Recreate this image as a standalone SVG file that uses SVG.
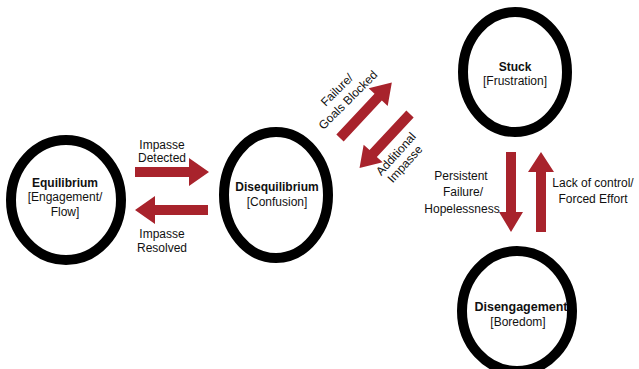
<svg xmlns="http://www.w3.org/2000/svg" width="639" height="369" viewBox="0 0 639 369">
  <style>
    .node { fill: #ffffff; stroke: #000000; stroke-width: 10; }
    .arr { fill: #a8232c; stroke: none; }
    text { font-family: "Liberation Sans", Arial, sans-serif; fill: #111111; text-anchor: middle; }
    .t { font-size: 12px; font-weight: bold; }
    .s { font-size: 12px; }
    .l { font-size: 12px; }
  </style>
  <rect x="0" y="0" width="639" height="369" fill="#ffffff"/>

  <g id="connectors">
    <polygon class="arr" points="135,167 189,167 189,158 209,172 189,186 189,177 135,177"/>
    <polygon class="arr" points="208,205 155,205 155,196 135,210 155,224 155,215 208,215"/>
    <polygon class="arr" points="0,-5 56,-5 56,-13 76,0 56,13 56,5 0,5" transform="translate(340,138) rotate(-47)"/>
    <polygon class="arr" points="0,-5 54,-5 54,-13 74,0 54,13 54,5 0,5" transform="translate(410,114) rotate(133)"/>
    <polygon class="arr" points="506,152 516,152 516,212 523,212 511,232 499,212 506,212"/>
    <polygon class="arr" points="536,232 536,172 528,172 541,152 554,172 546,172 546,232"/>

    <text class="l" x="162" y="149">Impasse</text>
    <text class="l" x="162" y="162">Detected</text>
    <text class="l" x="162" y="238">Impasse</text>
    <text class="l" x="162" y="252">Resolved</text>
    <g transform="translate(337,90) rotate(-45)"><text class="l" x="0" y="4">Failure/</text></g>
    <g transform="translate(348,100) rotate(-45)"><text class="l" x="0" y="4">Goals Blocked</text></g>
    <g transform="translate(396,154) rotate(-48)"><text class="l" x="0" y="4">Additional</text></g>
    <g transform="translate(405,164) rotate(-48)"><text class="l" x="0" y="4">Impasse</text></g>
    <text class="l" x="461" y="180">Persistent</text>
    <text class="l" x="463" y="196">Failure/</text>
    <text class="l" x="462" y="213">Hopelessness</text>
    <text class="l" x="593" y="187">Lack of control/</text>
    <text class="l" x="593" y="203">Forced Effort</text>
  </g>

  <g id="equilibrium">
    <ellipse class="node" cx="66" cy="200" rx="55" ry="60"/>
    <text class="t" x="65" y="187">Equilibrium</text>
    <text class="s" x="65" y="201">[Engagement/</text>
    <text class="s" x="65" y="216">Flow]</text>
  </g>

  <g id="disequilibrium">
    <ellipse class="node" cx="276" cy="195" rx="52" ry="63"/>
    <text class="t" x="277" y="191">Disequilibrium</text>
    <text class="s" x="277" y="206">[Confusion]</text>
  </g>

  <g id="stuck">
    <ellipse class="node" cx="515" cy="72" rx="52" ry="60"/>
    <text class="t" x="515" y="71">Stuck</text>
    <text class="s" x="515" y="85">[Frustration]</text>
  </g>

  <g id="disengagement">
    <ellipse class="node" cx="517" cy="311" rx="55" ry="60"/>
    <text class="t" x="521" y="311" style="font-size:12.5px">Disengagement</text>
    <text class="s" x="518" y="326">[Boredom]</text>
  </g>
</svg>
